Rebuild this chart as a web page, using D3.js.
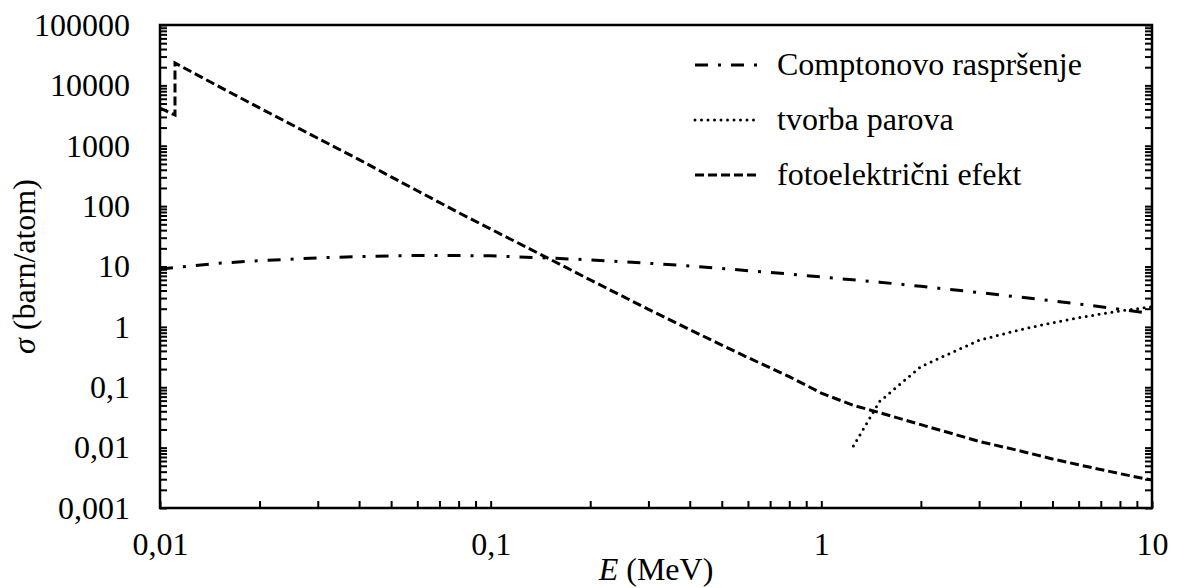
<!DOCTYPE html>
<meta charset="utf-8">
<script src="https://d3js.org/d3.v7.min.js"></script>
<body style="margin:0">
<svg></svg>
<script>
// energies in MeV, cross sections in barn/atom
var comptonE = [0.01, 0.015, 0.02, 0.03, 0.04, 0.05, 0.06, 0.08, 0.1, 0.15, 0.2, 0.3, 0.4, 0.5, 0.6, 0.8, 1, 1.5, 2, 3, 4, 5, 6, 8, 10];
var comptonS = [9.1, 11.3, 12.5, 13.9, 14.6, 15.0, 15.2, 15.2, 15.0, 13.8, 12.9, 11.3, 10.2, 9.3, 8.5, 7.5, 6.7, 5.5, 4.7, 3.7, 3.1, 2.7, 2.4, 1.95, 1.65];

var pairE = [1.25, 1.5, 2, 3, 4, 5, 6, 8, 10];
var pairS = [0.0106, 0.058, 0.22, 0.6, 0.9, 1.17, 1.42, 1.84, 2.15];

var photoE = [0.01, 0.0111, 0.0111, 0.015, 0.02, 0.03, 0.04, 0.05, 0.06, 0.08, 0.1, 0.15, 0.2, 0.3, 0.4, 0.5, 0.6, 0.8, 1, 1.25, 1.5, 2, 3, 4, 5, 6, 8, 10];
var photoS = [4200, 3230, 23500, 9700, 4230, 1330, 590, 305, 180, 78, 41.7, 13.5, 6.0, 1.95, 0.9, 0.5, 0.31, 0.15, 0.08, 0.05, 0.038, 0.024, 0.0127, 0.0088, 0.0065, 0.0052, 0.0037, 0.0029];

var seriesNames = ["Comptonovo raspršenje", "tvorba parova", "fotoelektrični efekt"];
var xTicks = [0.01, 0.1, 1, 10];
var yTicks = [0.001, 0.01, 0.1, 1, 10, 100, 1000, 10000, 100000];

var margin = {top: 25, right: 25, bottom: 80, left: 160};
var W = 1177, H = 588;
var width = W - margin.left - margin.right;
var height = H - margin.top - margin.bottom;

var x = d3.scaleLog().domain([0.01, 10]).range([0, width]);
var y = d3.scaleLog().domain([0.001, 100000]).range([height, 0]);

function minors(majors) {
  var out = [];
  majors.forEach(function(m, i) {
    if (i == majors.length - 1) { out.push(m); return; }
    for (var k = 1; k < 10; k++) out.push(m * k);
  });
  return out;
}
function fmt(d) { return String(+d.toPrecision(6)).replace(".", ","); }
// serif font set on each text element
function serif(sel) {
  sel.style("font-family", "'Liberation Serif'").style("font-size", "32px").attr("fill", "#000");
}

var svg = d3.select("svg").attr("width", W).attr("height", H);
var g = svg.append("g").attr("transform", "translate(" + margin.left + "," + margin.top + ")");

// ticks (pointing inwards)
var xAll = minors(xTicks), yAll = minors(yTicks);
g.append("g").attr("class", "axis")
  .attr("transform", "translate(0," + height + ")")
  .call(d3.axisBottom(x).tickValues(xAll).tickSize(-7).tickPadding(24)
    .tickFormat(function(d) { return xTicks.indexOf(d) >= 0 ? fmt(d) : ""; }));
g.append("g").attr("class", "axis")
  .call(d3.axisLeft(y).tickValues(yAll).tickSize(-7).tickPadding(30)
    .tickFormat(function(d) { return yTicks.indexOf(d) >= 0 ? fmt(d) : ""; }));
g.append("g").attr("class", "axis")
  .attr("transform", "translate(" + width + ",0)")
  .call(d3.axisRight(y).tickValues(yAll).tickSize(-7).tickFormat(""));

g.selectAll(".axis").attr("font-family", null).attr("font-size", null);
g.selectAll(".axis .domain").remove();
g.selectAll(".axis line").attr("stroke", "#000").attr("stroke-width", 2);
serif(g.selectAll(".axis text"));

g.append("rect")
  .attr("width", width).attr("height", height)
  .attr("fill", "none").attr("stroke", "#000").attr("stroke-width", 2.5);

g.append("clipPath").attr("id", "clip").append("rect").attr("width", width).attr("height", height);

var line = d3.line()
  .x(function(d) { return x(d[0]); })
  .y(function(d) { return y(d[1]); });

var styles = [
  {dash: "13,10,3,10", cap: "butt"},
  {dash: "0,6.5", cap: "round"},
  {dash: "9,4", cap: "butt"}
];
var series = [
  d3.zip(comptonE, comptonS),
  d3.zip(pairE, pairS),
  d3.zip(photoE, photoS)
];

g.append("g").attr("clip-path", "url(#clip)")
  .selectAll("path.curve")
  .data(series)
  .enter().append("path")
  .attr("class", "curve")
  .attr("d", line)
  .attr("fill", "none").attr("stroke", "#000").attr("stroke-width", 3)
  .attr("stroke-dasharray", function(d, i) { return styles[i].dash; })
  .attr("stroke-linecap", function(d, i) { return styles[i].cap; });

// legend
var legend = svg.selectAll(".legend")
  .data(seriesNames)
  .enter().append("g")
  .attr("class", "legend")
  .attr("transform", function(d, i) { return "translate(695," + (65 + i * 55) + ")"; });

legend.append("line")
  .attr("x1", 0).attr("x2", 62)
  .attr("stroke", "#000").attr("stroke-width", 3)
  .attr("stroke-dasharray", function(d, i) { return styles[i].dash; })
  .attr("stroke-linecap", function(d, i) { return styles[i].cap; });

legend.append("text")
  .attr("x", 82)
  .attr("y", 10)
  .text(function(d) { return d; })
  .call(serif);

// axis titles
var xt = svg.append("text")
  .attr("x", margin.left + width / 2)
  .attr("y", 580)
  .attr("text-anchor", "middle")
  .call(serif);
xt.append("tspan").style("font-style", "italic").text("E");
xt.append("tspan").text(" (MeV)");

var yt = svg.append("text")
  .attr("transform", "translate(35," + (margin.top + height / 2) + ") rotate(-90)")
  .attr("text-anchor", "middle")
  .call(serif);
yt.append("tspan").style("font-style", "italic").text("σ");
yt.append("tspan").text(" (barn/atom)");
</script>
</body>
